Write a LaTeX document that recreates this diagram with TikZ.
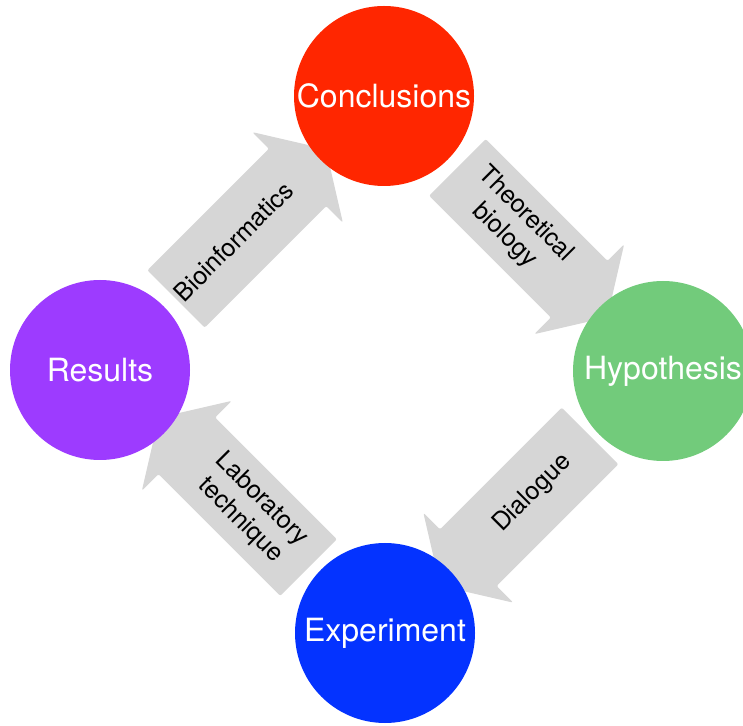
\documentclass[tikz,border=0pt]{standalone}
\usepackage{fontspec}
\setmainfont{TeX Gyre Heros}
\usepackage{xcolor}
\usepackage{tikz}
\usetikzlibrary{shapes, arrows, positioning, calc, backgrounds}
\definecolor{conred}{HTML}{FF2600}
\definecolor{hypgreen}{HTML}{72CB7B}
\definecolor{expblue}{HTML}{0433FF}
\definecolor{respurple}{HTML}{9D3BFF}
\definecolor{flowgray}{HTML}{D6D6D6}
\newcommand{\tailgap}{\hspace*{24pt}}
\tikzset{
    stage/.style={circle, minimum size=180pt, inner sep=0pt, text=white, font=\fontsize{32}{36}\selectfont},
    flow/.style={single arrow, fill=flowgray, minimum height=212pt, minimum width=127pt, single arrow head extend=23.5pt, single arrow tip angle=116, inner xsep=2pt, inner ysep=31pt, align=center, rounded corners=2pt, font=\fontsize{25}{30}\selectfont},
    twoline/.style={inner ysep=13pt}
}

\begin{document}
\begin{tikzpicture}[x=1pt, y=1pt]
    \useasboundingbox (0,0) rectangle (743,725);

    % Stages
    \node[stage, fill=conred] (con) at (384, 629) {Conclusions};
    \node[stage, fill=hypgreen] (hyp) at (663, 354) {Hypothesis};
    \node[stage, fill=expblue] (exp) at (385, 92) {Experiment};
    \node[stage, fill=respurple] (res) at (100, 355) {Results};

    % Arrows between stages (text sits in the shaft, away from the head)
    \begin{pgfonlayer}{background}
        \node[flow, rotate=45] (bio) at ($(res)!0.5!(con)$) {Bioinformatics\tailgap};
        \node[flow, twoline, rotate=-45] (theo) at ($(con)!0.5!(hyp)$) {Theoretical\tailgap\\biology\tailgap};
        \node[flow, rotate=45, inner ysep=28pt, shape border rotate=180] (dia) at ($(hyp)!0.5!(exp)$) {\tailgap Dialogue};
        \node[flow, twoline, rotate=-45, shape border rotate=180] (lab) at ($(exp)!0.5!(res)$) {\tailgap Laboratory\\\tailgap technique};
    \end{pgfonlayer}
\end{tikzpicture}
\end{document}
